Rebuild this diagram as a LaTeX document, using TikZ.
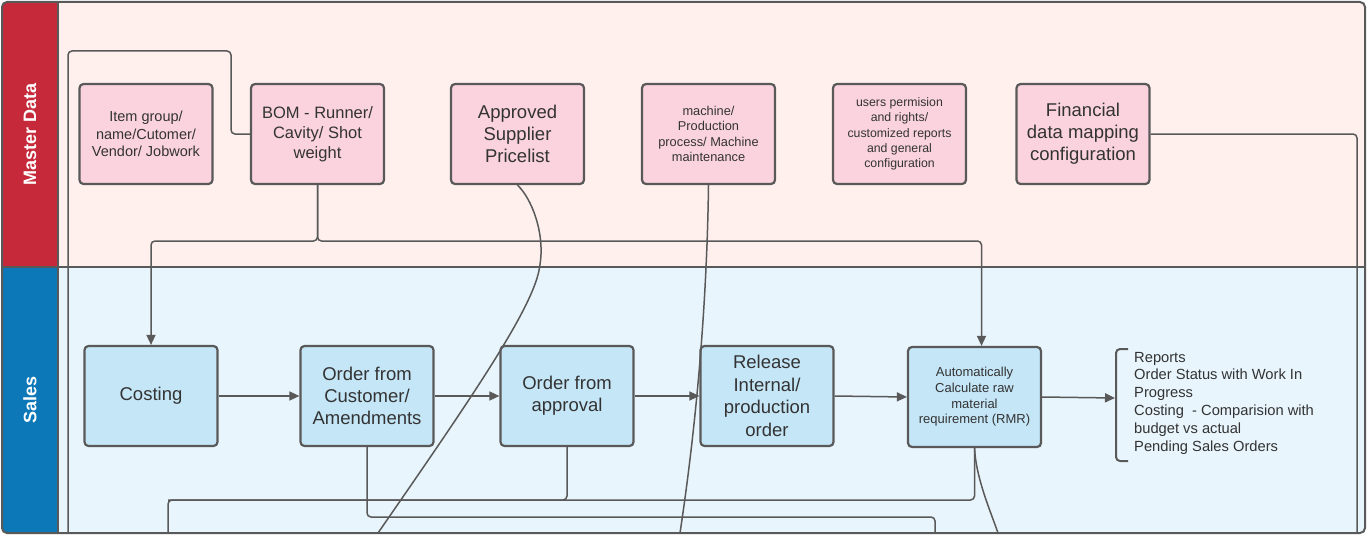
\documentclass[tikz,border=0pt]{standalone}
\usepackage{fontspec}
\setmainfont{Liberation Sans}
\usetikzlibrary{arrows.meta}
\definecolor{edgec}{HTML}{595959}
\definecolor{txtc}{HTML}{333333}
\definecolor{mdfill}{HTML}{FFF0EE}
\definecolor{slfill}{HTML}{E8F5FC}
\definecolor{mdred}{HTML}{C62A3A}
\definecolor{slblue}{HTML}{0D78B8}
\definecolor{pinkbox}{HTML}{FAD3DE}
\definecolor{bluebox}{HTML}{C5E6F7}
\tikzset{
  basebox/.style={draw=edgec, line width=2.2pt, rounded corners=4pt, minimum width=133pt, minimum height=100pt, align=center, text=txtc, inner sep=2pt},
  mdbox/.style={basebox, fill=pinkbox},
  slbox/.style={basebox, fill=bluebox},
  conn/.style={draw=edgec, line width=1.5pt, rounded corners=4pt},
  arr/.style={conn, -{Triangle[length=10pt,width=9pt]}},
  lanelabel/.style={rotate=90, text=white, font=\bfseries\fontsize{18}{22}\selectfont},
  fA/.style={font=\fontsize{18.5}{22}\selectfont},
}
\begin{document}
\begin{tikzpicture}[x=1pt,y=-1pt]
\useasboundingbox (0,0) rectangle (1367,535);
% lanes
\begin{scope}
\clip[rounded corners=5pt] (2,2) rectangle (1365,533);
\fill[mdfill] (2,2) rectangle (1365,267);
\fill[slfill] (2,267) rectangle (1365,533);
\fill[mdred] (2,2) rectangle (58,267);
\fill[slblue] (2,267) rectangle (58,533);
\end{scope}
\draw[edgec, line width=2pt] (58,2) -- (58,533);
\draw[edgec, line width=2pt] (2,267) -- (1365,267);
\draw[edgec, line width=2pt, rounded corners=5pt] (2,2) rectangle (1365,533);
\node[lanelabel] (mdlabel) at (30,134) {Master Data};
\node[lanelabel] (sllabel) at (30,400) {Sales};

% master data nodes
\node[mdbox, font=\fontsize{14.5}{17.5}\selectfont] (item) at (146,134) {Item group/\\name/Cutomer/\\Vendor/ Jobwork};
\node[mdbox, font=\fontsize{16.5}{20}\selectfont] (bom) at (317.5,134) {BOM - Runner/\\Cavity/ Shot\\weight};
\node[mdbox, fA] (asp) at (517.5,134) {Approved\\Supplier\\Pricelist};
\node[mdbox, font=\fontsize{12.8}{15.4}\selectfont] (mach) at (708.5,134) {machine/\\Production\\process/ Machine\\maintenance};
\node[mdbox, font=\fontsize{12.3}{15.3}\selectfont] (users) at (899.5,134) {users permision\\and rights/\\customized reports\\and general\\configuration};
\node[mdbox, fA] (fin) at (1083,134) {Financial\\data mapping\\configuration};

% sales nodes
\node[slbox, fA] (cost) at (151,396) {Costing};
\node[slbox, fA] (ocust) at (367,396) {Order from\\Customer/\\Amendments};
\node[slbox, fA] (oappr) at (567,396) {Order from\\approval};
\node[slbox, font=\fontsize{18.5}{22.5}\selectfont] (rel) at (767,396) {Release\\Internal/\\production\\order};
\node[slbox, font=\fontsize{13}{15.6}\selectfont] (rmr) at (974.5,397) {Automatically\\Calculate raw\\material\\requirement (RMR)};

% reports bracket
\coordinate (brk) at (1115,398);
\draw[conn, line width=2pt] (1128,349) -- (1116,349) -- (1116,461) -- (1128,461);
\node[anchor=west, align=left, text=txtc, font=\fontsize{14.7}{17.8}\selectfont, inner sep=0pt] (rep) at (1134,403)
  {Reports\\Order Status with Work In\\Progress\\Costing\ \ - Comparision with\\budget vs actual\\Pending Sales Orders};

% free ends at the bottom edge
\coordinate (e1) at (68,533);
\coordinate (e2) at (935,533);
\coordinate (e3) at (168,533);
\coordinate (e4) at (378,533);
\coordinate (e5) at (680,533);
\coordinate (e6) at (1357,533);
\coordinate (e7) at (998,533);
\coordinate (j1) at (168,500);
\coordinate (bj) at (317.5,241);

% connectors
\draw[conn] (bom.west) -- (231,134) -- (231,51) -| (e1);
\draw[arr] (bom.south) -- (bj) -| (cost.north);
\draw[arr] (bom.south) -- (bj) -| ([xshift=7pt]rmr.north);
\draw[arr] (cost.east) -- (ocust.west);
\draw[arr] (ocust.east) -- (oappr.west);
\draw[arr] (oappr.east) -- (rel.west);
\draw[arr] (rel.east) -- (rmr.west);
\draw[arr] (rmr.east) -- (brk);
\draw[conn] (ocust.south) |- (935,517) -- (e2);
\draw[conn] (oappr.south) |- (j1);
\draw[conn] (rmr.south) |- (j1) -- (e3);
\draw[conn] (asp.south) .. controls (532,199) and (544,232) .. (540,265) .. controls (532,310) and (470,400) .. (e4);
\draw[conn] (mach.south) .. controls (707,300) and (697,420) .. (e5);
\draw[conn] (rmr.south) .. controls (976,478) and (990,510) .. (e7);
\draw[conn] (fin.east) -| (e6);
\end{tikzpicture}
\end{document}
